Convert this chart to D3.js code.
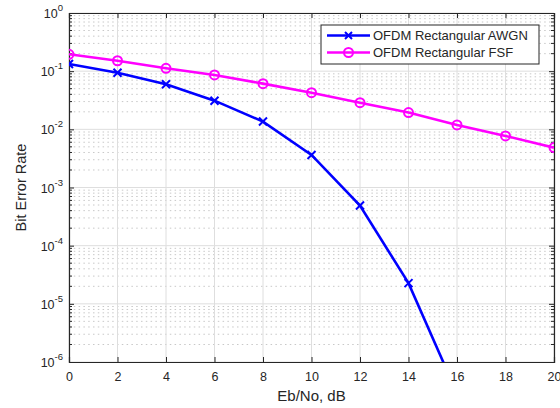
<!DOCTYPE html>
<html>
<head>
<meta charset="utf-8">
<script src="https://cdn.jsdelivr.net/npm/d3@7"></script>
<style>
  body { margin: 0; background: #fff; }
  text { font-family: "Liberation Sans", Arial, Helvetica, sans-serif; fill: #262626; }
</style>
</head>
<body>
<div id="chart"></div>
<script>
const ebno = [0, 2, 4, 6, 8, 10, 12, 14, 16, 18, 20];
const awgnX = [0, 2, 4, 6, 8, 10, 12, 14, 16];
const awgnBer = [0.133, 0.094, 0.0596, 0.0311, 0.0136, 0.00363, 4.89e-4, 2.27e-5, 2.9e-7];
const fsfBer = [0.195, 0.151, 0.112, 0.086, 0.061, 0.0427, 0.0287, 0.0194, 0.0119, 0.0077, 0.00485];
const xTicks = [0, 2, 4, 6, 8, 10, 12, 14, 16, 18, 20];
const yExps = [0, -1, -2, -3, -4, -5, -6];
const seriesNames = ["OFDM Rectangular AWGN", "OFDM Rectangular FSF"];

const W = 560, H = 408;
const margin = { top: 13, right: 6, bottom: 46, left: 69 };
const width = W - margin.left - margin.right,
    height = H - margin.top - margin.bottom;

const svg = d3.select("#chart").append("svg")
    .attr("width", W).attr("height", H);
const g = svg.append("g")
    .attr("transform", `translate(${margin.left},${margin.top})`);

const x = d3.scaleLinear().domain([0, 20]).range([0, width]);
const y = d3.scaleLog().domain([1e-6, 1]).range([height, 0]);

// minor grid (dotted)
const minors = [];
for (let e = -6; e < 0; e++) for (let k = 2; k <= 9; k++) minors.push(k * Math.pow(10, e));
g.append("g").selectAll("line").data(minors).join("line")
    .attr("x1", 0).attr("x2", width)
    .attr("y1", d => y(d)).attr("y2", d => y(d))
    .attr("stroke", "#c8c8c8").attr("stroke-width", 1)
    .attr("stroke-dasharray", "1.5,3.3");

// major grid
g.append("g").selectAll("line").data(xTicks).join("line")
    .attr("x1", d => x(d)).attr("x2", d => x(d))
    .attr("y1", 0).attr("y2", height)
    .attr("stroke", "#dedede").attr("stroke-width", 1);
g.append("g").selectAll("line").data(yExps).join("line")
    .attr("x1", 0).attr("x2", width)
    .attr("y1", d => y(Math.pow(10, d))).attr("y2", d => y(Math.pow(10, d)))
    .attr("stroke", "#dedede").attr("stroke-width", 1);

// axes box and ticks
const axisColor = "#262626";
const xb = g.append("g").attr("transform", `translate(0,${height})`)
    .call(d3.axisBottom(x).tickValues(xTicks).tickSize(-5).tickPadding(10));
const xt = g.append("g")
    .call(d3.axisTop(x).tickValues(xTicks).tickSize(-5).tickFormat(""));
const yl = g.append("g")
    .call(d3.axisLeft(y).tickValues(yExps.map(e => Math.pow(10, e))).tickSize(-5).tickFormat(""));
const yr = g.append("g").attr("transform", `translate(${width},0)`)
    .call(d3.axisRight(y).tickValues(yExps.map(e => Math.pow(10, e))).tickSize(-5).tickFormat(""));
[xb, xt, yl, yr].forEach(a => {
  a.select(".domain").attr("stroke", axisColor).attr("stroke-width", 1.2);
  a.selectAll(".tick line").attr("stroke", axisColor);
});
xb.selectAll(".tick text").attr("font-size", 12.5).attr("fill", axisColor)
    .style("font-family", "'Liberation Sans', Arial, sans-serif");

// minor y ticks
[[0, 1], [width, -1]].forEach(([px, dir]) => {
  g.append("g").selectAll("line").data(minors).join("line")
      .attr("x1", px).attr("x2", px + dir * 3)
      .attr("y1", d => y(d)).attr("y2", d => y(d))
      .attr("stroke", axisColor).attr("stroke-width", 1);
});

// y tick labels with superscripts
const ylab = g.append("g").selectAll("text").data(yExps).join("text")
    .attr("x", -6).attr("y", d => y(Math.pow(10, d)) + 5)
    .attr("text-anchor", "end").attr("font-size", 12.5);
ylab.append("tspan").text("10");
ylab.append("tspan").attr("dy", -7).attr("font-size", 9.5).text(d => d === 0 ? "0" : "-" + Math.abs(d));

// axis labels
svg.append("text").attr("x", margin.left + width / 2).attr("y", 401)
    .attr("text-anchor", "middle").attr("font-size", 15).text("Eb/No, dB");
svg.append("text").attr("transform", `translate(26,${margin.top + height / 2}) rotate(-90)`)
    .attr("text-anchor", "middle").attr("font-size", 14.5).text("Bit Error Rate");

// clip
svg.append("defs").append("clipPath").attr("id", "clip")
    .append("rect").attr("width", width).attr("height", height);
const plot = g.append("g").attr("clip-path", "url(#clip)");

const line = d3.line().x(d => x(d[0])).y(d => y(d[1]));
const awgn = awgnX.map((v, i) => [v, awgnBer[i]]);
const fsf = ebno.map((v, i) => [v, fsfBer[i]]);

const blue = "#0000ff", mag = "#ff00ff";
plot.append("path").datum(awgn).attr("d", line)
    .attr("fill", "none").attr("stroke", blue).attr("stroke-width", 2.6);
plot.append("path").datum(fsf).attr("d", line)
    .attr("fill", "none").attr("stroke", mag).attr("stroke-width", 2.6);

const cross = (sel, s) => sel.append("path")
    .attr("d", `M${-s},${-s}L${s},${s}M${-s},${s}L${s},${-s}`)
    .attr("stroke", blue).attr("stroke-width", 2);
plot.append("g").selectAll("g").data(awgn.filter(d => d[1] >= 1e-6)).join("g")
    .attr("transform", d => `translate(${x(d[0])},${y(d[1])})`)
    .call(sel => cross(sel, 4));
plot.append("g").selectAll("circle").data(fsf).join("circle")
    .attr("cx", d => x(d[0])).attr("cy", d => y(d[1])).attr("r", 4.5)
    .attr("fill", "none").attr("stroke", mag).attr("stroke-width", 2);

// legend
const leg = svg.append("g").attr("transform", "translate(321,25)");
leg.append("rect").attr("width", 218).attr("height", 39)
    .attr("fill", "#fff").attr("stroke", axisColor).attr("stroke-width", 1);
const rows = leg.selectAll("g").data(seriesNames).join("g")
    .attr("transform", (d, i) => `translate(0,${10.5 + i * 17})`);
rows.append("line").attr("x1", 6).attr("x2", 49)
    .attr("stroke", (d, i) => i ? mag : blue).attr("stroke-width", 2.6);
rows.filter((d, i) => i === 0).call(sel => {
  const m = sel.append("g").attr("transform", "translate(27.5,0)");
  cross(m, 3.5);
});
rows.filter((d, i) => i === 1).append("circle").attr("cx", 27.5).attr("r", 4.5)
    .attr("fill", "none").attr("stroke", mag).attr("stroke-width", 2);
rows.append("text").attr("x", 52).attr("y", 4.5).attr("font-size", 13).text(d => d);
</script>
</body>
</html>
